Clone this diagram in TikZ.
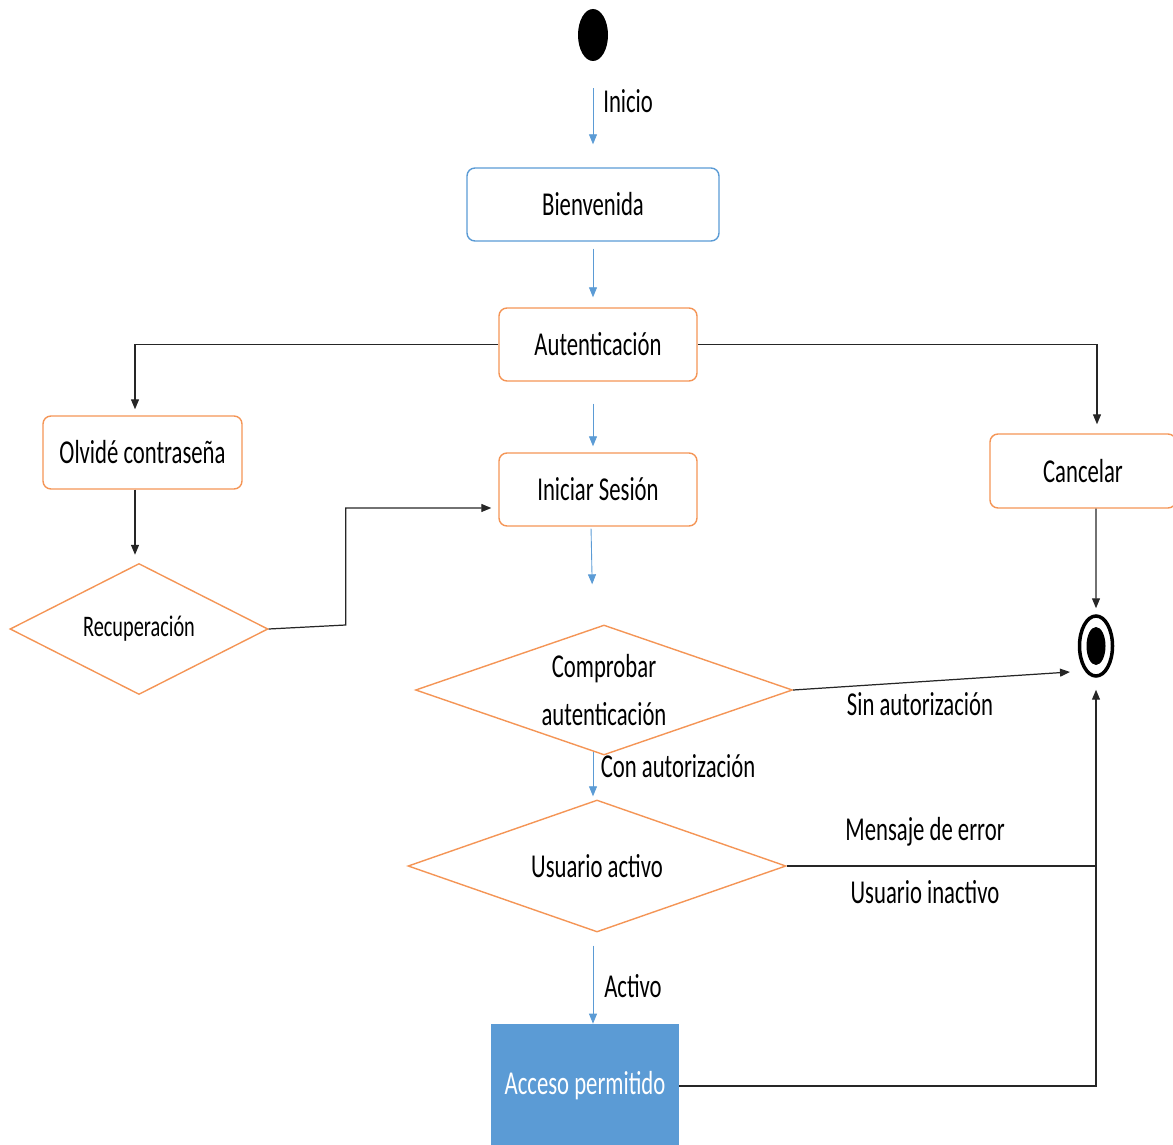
\documentclass[tikz,border=0pt]{standalone}
\usepackage{fontspec}
\setmainfont{Carlito}[FakeStretch=0.68]
\usetikzlibrary{arrows.meta,shapes.geometric}
\definecolor{azul}{RGB}{91,155,213}
\definecolor{naranja}{RGB}{244,149,86}
\newdimen\px \px=0.02cm
\tikzset{
  texto/.style={font=\fontsize{19}{23}\selectfont},
  caja/.style={texto, rectangle, draw=naranja, line width=0.8pt, rounded corners=0.16cm,
    minimum width=198*\px, minimum height=73*\px},
  cajazul/.style={caja, draw=azul},
  decision/.style={texto, diamond, draw=naranja, line width=0.8pt, inner sep=0pt, aspect=2.9},
  flecha/.style={-{Triangle[length=0.2cm,width=0.16cm]}, line width=0.7pt, draw=black!85},
  linea/.style={line width=0.7pt, draw=black!85},
  fazul/.style={-{Triangle[length=0.2cm,width=0.16cm]}, line width=0.5pt, draw=azul}
}
\begin{document}
\begin{tikzpicture}[x=0.02cm, y=-0.02cm]
\useasboundingbox (0,0) rectangle (1173,1145);

% Estados
\node[ellipse, fill=black, inner sep=0pt, minimum width=30*\px, minimum height=52*\px] (ini) at (593,35) {};
\node[cajazul, minimum width=252*\px] (bien) at (593,204.5) {Bienvenida};
\node[caja] (aut) at (598,344.5) {Autenticación};
\node[caja, minimum width=199*\px] (olv) at (142.5,452.5) {Olvidé contraseña};
\node[caja] (ses) at (598,489.5) {Iniciar Sesión};
\node[caja, minimum width=186*\px, minimum height=74*\px] (can) at (1083,471) {Cancelar};
\node[texto, rectangle, fill=azul, text=white, minimum width=188*\px, minimum height=124*\px] (acc) at (585,1086) {Acceso permitido};

% Decisiones
\node[decision, font=\fontsize{17}{20}\selectfont, minimum width=258*\px, minimum height=131*\px] (rec) at (139,629) {Recuperación};
\node[decision, font=\fontsize{19}{27}\selectfont, align=center, minimum width=377*\px, minimum height=130*\px] (comp) at (604,690) {Comprobar\\autenticación};
\node[decision, minimum width=378*\px, minimum height=132*\px] (usu) at (597,866) {Usuario activo};

% Estado final
\node[ellipse, draw=black, line width=0.07cm, inner sep=0pt, minimum width=33*\px, minimum height=60*\px] (fin) at (1096,646) {};
\node[ellipse, fill=black, inner sep=0pt, minimum width=19*\px, minimum height=38*\px] (finc) at (fin.center) {};

% Flechas azules
\draw[fazul, shorten <=0.54cm, shorten >=0.46cm] (ini.south) -- (bien.north)
  node[texto, anchor=west, pos=0.38, xshift=0.08cm] (lini) {Inicio};
\draw[fazul, shorten <=0.14cm, shorten >=0.2cm] (bien.south) -- (bien.south |- aut.north);
\draw[fazul, shorten <=0.44cm, shorten >=0.12cm] (bien.south |- aut.south) -- (bien.south |- ses.north);
\draw[fazul, shorten <=0.04cm, shorten >=0.8cm] ([xshift=-0.04cm]bien.south |- ses.south) -- (bien.south |- comp.north);
\draw[fazul, shorten >=0.06cm] ([shift={(0,-4)}]bien.south |- comp.south) -- (bien.south |- usu.north)
  node[texto, anchor=west, pos=0.3, xshift=0.03cm] (lcon) {Con autorización};
\draw[fazul, shorten <=0.26cm] (bien.south |- usu.south) -- (bien.south |- acc.north)
  node[texto, anchor=west, pos=0.59, xshift=0.1cm] (lact) {Activo};

% Flechas negras
\draw[flecha, shorten >=0.12cm] (aut.west) -| ([xshift=-0.15cm]olv.north);
\draw[flecha, shorten >=0.18cm] (aut.east) -| ([xshift=0.28cm]can.north);
\draw[flecha, shorten >=0.16cm] ([xshift=-0.15cm]olv.south) -- ([xshift=-0.15cm]olv.south |- rec.north);
\draw[flecha, shorten >=0.14cm] (rec.east) -- ++(77,-4) |- ([yshift=-0.37cm]ses.west);
\draw[flecha] (comp.east) -- ([shift={(-26,26)}]fin.center);
\draw[flecha, shorten >=0.12cm] ([xshift=0.26cm]can.south) -- (fin.north);
\draw[linea] (usu.east) -- (usu.east -| fin.center);
\draw[flecha, shorten >=0.24cm] (acc.east) -| (fin.south);

% Etiquetas
\node[texto] (lsin) at (920,704) {Sin autorización};
\node[texto] (lmen) at (925,832) {Mensaje de error};
\node[texto] (lina) at (925,892) {Usuario inactivo};
\end{tikzpicture}
\end{document}
